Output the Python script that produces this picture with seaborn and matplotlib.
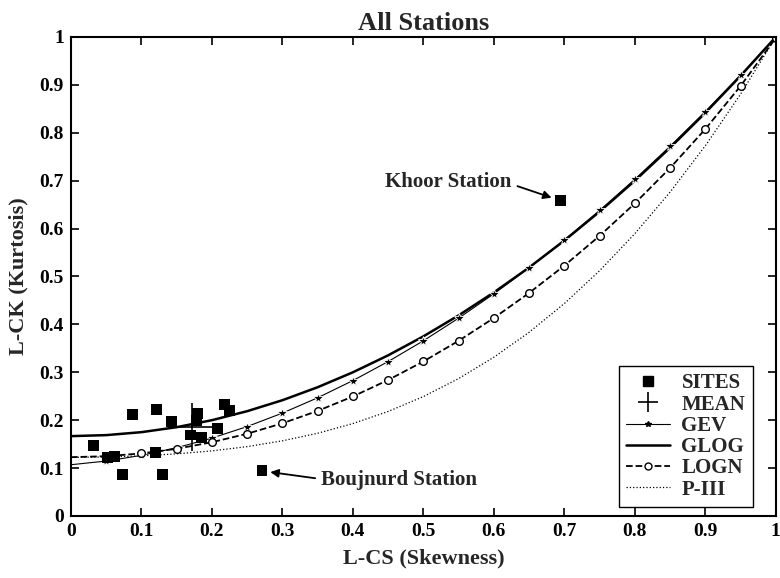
import numpy as np
import pandas as pd
import matplotlib
matplotlib.use('Agg')
import matplotlib.pyplot as plt
import seaborn as sns
from matplotlib.lines import Line2D

# L-moment ratios of the stations
site_skew = [0.032, 0.052, 0.062, 0.073, 0.087, 0.120, 0.121, 0.1295, 0.142,
             0.170, 0.179, 0.178, 0.185, 0.208, 0.218, 0.2246, 0.271, 0.695]
site_kurt = [0.148, 0.123, 0.124, 0.086, 0.211, 0.132, 0.223, 0.086, 0.197,
             0.169, 0.214, 0.199, 0.164, 0.183, 0.232, 0.221, 0.094, 0.658]
mean_skew = 0.172
mean_kurt = 0.185

# theoretical curves
t3 = [0.0, 0.05, 0.1, 0.15, 0.2, 0.25, 0.3, 0.35, 0.4, 0.45, 0.5,
      0.55, 0.6, 0.65, 0.7, 0.75, 0.8, 0.85, 0.9, 0.95, 1.0]
gev = [0.1070, 0.1147, 0.1265, 0.1425, 0.1626, 0.1867, 0.2148, 0.2468, 0.2827, 0.3224, 0.3658,
       0.4130, 0.4638, 0.5182, 0.5762, 0.6378, 0.7029, 0.7718, 0.8443, 0.9206, 1.0]
glog = [0.1667, 0.1688, 0.1750, 0.1854, 0.2000, 0.2188, 0.2417, 0.2688, 0.3000, 0.3354, 0.3750,
        0.4188, 0.4667, 0.5188, 0.5750, 0.6354, 0.7000, 0.7688, 0.8417, 0.9188, 1.0]
logn = [0.1228, 0.1248, 0.1306, 0.1403, 0.1540, 0.1717, 0.1935, 0.2194, 0.2495, 0.2839, 0.3226,
        0.3657, 0.4133, 0.4656, 0.5226, 0.5848, 0.6526, 0.7265, 0.8077, 0.8976, 0.998]
p3 = [0.1224, 0.1232, 0.1255, 0.1297, 0.1359, 0.1448, 0.1569, 0.1727, 0.1929, 0.2182, 0.2493,
      0.2869, 0.3314, 0.3835, 0.4435, 0.5120, 0.5894, 0.6761, 0.7729, 0.8806, 1.0]

tick_labels = ['0', '0.1', '0.2', '0.3', '0.4', '0.5', '0.6', '0.7', '0.8', '0.9', '1']

sns.set_style('ticks')
plt.rcParams['font.family'] = ['Liberation Serif', 'DejaVu Serif']
plt.rcParams['font.weight'] = 'bold'
plt.rcParams['xtick.direction'] = 'in'
plt.rcParams['ytick.direction'] = 'in'

fig = plt.figure(figsize=(7.8, 5.78), dpi=100)
ax = fig.add_axes([0.091, 0.1073, 0.9036, 0.8287])

curves = pd.DataFrame({'t3': t3, 'gev': gev, 'glog': glog, 'logn': logn, 'p3': p3})

sns.lineplot(data=curves, x='t3', y='p3', ax=ax, color='k', lw=0.9, linestyle=':',
             errorbar=None, sort=False)
sns.lineplot(data=curves, x='t3', y='glog', ax=ax, color='k', lw=1.8,
             errorbar=None, sort=False)
sns.lineplot(data=curves, x='t3', y='gev', ax=ax, color='k', lw=0.8, marker='*',
             markersize=7, markeredgewidth=0.6, markevery=slice(1, None),
             errorbar=None, sort=False)
sns.lineplot(data=curves, x='t3', y='logn', ax=ax, color='k', lw=1.3, linestyle='--',
             marker='o', markersize=5.5, markerfacecolor='white', markeredgecolor='k',
             markeredgewidth=1.0, markevery=slice(1, None), errorbar=None, sort=False)

sns.scatterplot(x=site_skew, y=site_kurt, ax=ax, marker='s', s=62, color='k',
                edgecolor='none', zorder=5)
ax.plot([mean_skew], [mean_kurt], marker='+', markersize=34, color='k',
        markeredgewidth=1.2, linestyle='none', zorder=6)

# station annotations
ax.annotate('Khoor Station', xy=(site_skew[-1], site_kurt[-1]), xytext=(0.625, 0.697),
            ha='right', va='center', fontsize=15, fontweight='bold',
            arrowprops=dict(arrowstyle='-|>', color='k', lw=1.3, mutation_scale=12,
                            shrinkA=2, shrinkB=7, relpos=(1.0, 0.4)))
ax.annotate('Boujnurd Station', xy=(site_skew[-2], site_kurt[-2]), xytext=(0.355, 0.075),
            ha='left', va='center', fontsize=15, fontweight='bold',
            arrowprops=dict(arrowstyle='-|>', color='k', lw=1.3, mutation_scale=12,
                            shrinkA=2, shrinkB=6, relpos=(0.0, 0.55)))

ax.set_xlim(0, 1)
ax.set_ylim(0, 1)
ax.set_xticks(np.arange(0, 1.01, 0.1))
ax.set_yticks(np.arange(0, 1.01, 0.1))
ax.set_xticklabels(tick_labels)
ax.set_yticklabels(tick_labels)
ax.tick_params(axis='both', which='both', top=True, right=True, length=6, width=1.2,
               labelsize=14, pad=5, colors='k')
for s in ax.spines.values():
    s.set_visible(True)
    s.set_linewidth(1.5)
    s.set_color('k')

ax.set_title('All Stations', fontsize=19, fontweight='bold', pad=5)
ax.set_xlabel('L-CS (Skewness)', fontsize=16, fontweight='bold', labelpad=6)
ax.set_ylabel('L-CK (Kurtosis)', fontsize=16, fontweight='bold', labelpad=8)

handles = [
    Line2D([], [], color='k', marker='s', markersize=7, linestyle='none'),
    Line2D([], [], color='k', marker='+', markersize=14, markeredgewidth=1.2, linestyle='none'),
    Line2D([], [], color='k', lw=0.8, marker='*', markersize=4),
    Line2D([], [], color='k', lw=1.8),
    Line2D([], [], color='k', lw=1.3, linestyle='--', marker='o', markersize=5,
           markerfacecolor='white'),
    Line2D([], [], color='k', lw=0.9, linestyle=':'),
]
labels = ['SITES', 'MEAN', 'GEV', 'GLOG', 'LOGN', 'P-III']
leg = ax.legend(handles, labels, loc='lower right', bbox_to_anchor=(0.967, 0.019),
                borderaxespad=0, frameon=True, fancybox=False,
                edgecolor='k', framealpha=1, handlelength=2.1, handletextpad=0.55,
                labelspacing=0.06, borderpad=0.35, prop={'weight': 'bold', 'size': 15})
leg.get_frame().set_linewidth(1.0)

fig.savefig('out.png', dpi=100)
